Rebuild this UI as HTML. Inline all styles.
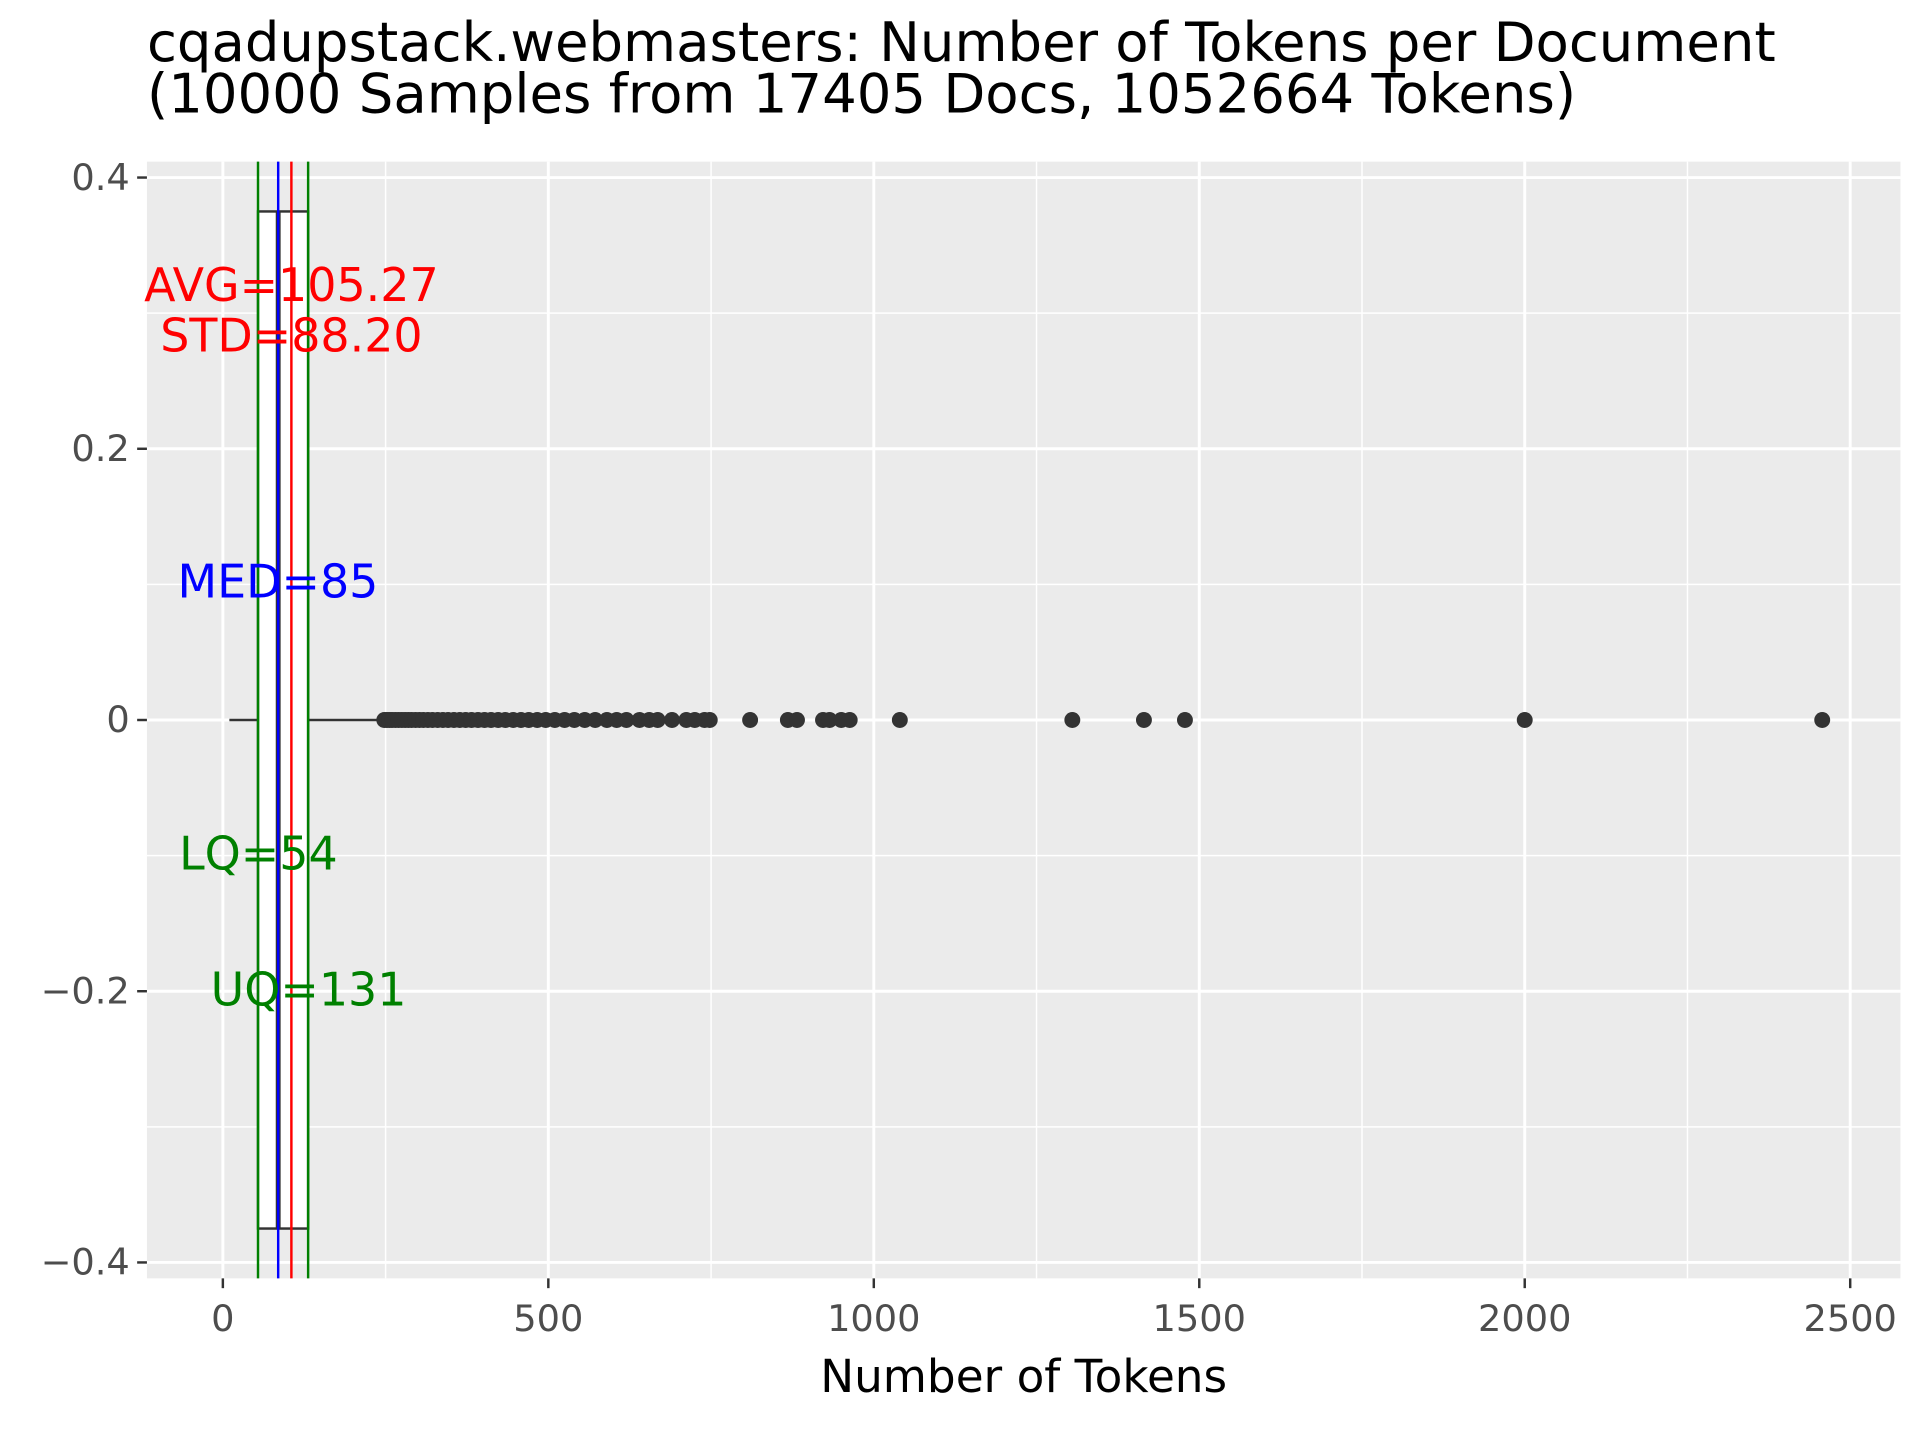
<!DOCTYPE html>
<html><head><meta charset="utf-8"><style>
html,body{margin:0;padding:0;background:#fff}
svg{display:block;font-family:"DejaVu Sans","Liberation Sans",sans-serif}
</style></head><body>
<svg id="chart" width="1920" height="1440" viewBox="0 0 1568 1176" xmlns="http://www.w3.org/2000/svg">
<text x="120" y="50" font-size="44.5" fill="#000">cqadupstack.webmasters: Number of Tokens per Document</text>
<text x="120" y="92" font-size="44.5" fill="#000">(10000 Samples from 17405 Docs, 1052664 Tokens)</text>
<rect x="120" y="132" width="1432" height="912" fill="#ebebeb"/>
<g id="grid"></g><g id="axes"></g><g id="marks"></g>
<text x="836" y="1137" font-size="37" text-anchor="middle" fill="#000">Number of Tokens</text>
</svg>
<script>
const xTicks=[0,500,1000,1500,2000,2500];
const xMinor=[250,750,1250,1750,2250];
const yTicks=[0.4,0.2,0,-0.2,-0.4];
const yTickLabels=["0.4","0.2","0","\u22120.2","\u22120.4"];
const yMinor=[0.3,0.1,-0.1,-0.3];
const stats={min:10,lq:54,med:85,uq:131,whiskerHi:245,avg:105.27,std:88.20};
const outliers=[248,252,256,260,265,270,275,280,285,290,296,302,308,315,322,330,338,346,355,364,373,382,392,402,412,423,434,446,458,470,483,496,510,525,540,556,572,590,605,620,640,655,668,690,712,725,740,748,810,868,882,922,932,950,963,1040,1305,1415,1478,2000,2457];
const NS="http://www.w3.org/2000/svg";
const X=v=>182+(v/500)*265.8;
const Y=v=>588-(v/0.4)*443;
function mk(tag,attrs,parent){const e=document.createElementNS(NS,tag);for(const k in attrs)e.setAttribute(k,attrs[k]);parent.appendChild(e);return e;}
const grid=document.getElementById('grid'),axes=document.getElementById('axes'),marks=document.getElementById('marks');
xMinor.forEach(v=>{const l=mk('line',{x1:X(v),x2:X(v),y1:132,y2:1044,stroke:'#fff','stroke-width':1.2},grid);

});
yMinor.forEach(v=>{const l=mk('line',{x1:120,x2:1552,y1:Y(v),y2:Y(v),stroke:'#fff','stroke-width':1.2},grid);

});
xTicks.forEach(v=>{const l=mk('line',{x1:X(v),x2:X(v),y1:132,y2:1044,stroke:'#fff','stroke-width':2.4},grid);


const t=mk('line',{x1:X(v),x2:X(v),y1:1044,y2:1052,stroke:'#333','stroke-width':2},axes);


const tx=mk('text',{x:X(v),y:1087,'font-size':30,'text-anchor':'middle',fill:'#4d4d4d'},axes);tx.textContent=v;

});
yTicks.forEach((v,i)=>{const l=mk('line',{x1:120,x2:1552,y1:Y(v),y2:Y(v),stroke:'#fff','stroke-width':2.4},grid);


const t=mk('line',{x1:112,x2:120,y1:Y(v),y2:Y(v),stroke:'#333','stroke-width':2},axes);


const tx=mk('text',{x:106,y:Y(v)+10,'font-size':30,'text-anchor':'end',fill:'#4d4d4d'},axes);tx.textContent=yTickLabels[i];

});
let w=mk('line',{x1:X(stats.min),x2:X(stats.lq),y1:Y(0),y2:Y(0),stroke:'#333','stroke-width':2},marks);


w=mk('line',{x1:X(stats.uq),x2:X(stats.whiskerHi),y1:Y(0),y2:Y(0),stroke:'#333','stroke-width':2},marks);


const box=mk('rect',{x:X(stats.lq),y:Y(0.375),width:X(stats.uq)-X(stats.lq),height:Y(-0.375)-Y(0.375),fill:'#fff',stroke:'#333','stroke-width':2},marks);


const med=mk('line',{x1:X(stats.med),x2:X(stats.med),y1:Y(0.375),y2:Y(-0.375),stroke:'#333','stroke-width':4},marks);


outliers.forEach(v=>{const c=mk('circle',{cx:X(v),cy:Y(0),r:6.5,fill:'#333'},marks);

});
[[stats.lq,'green','lq-line'],[stats.uq,'green','uq-line'],[stats.med,'blue','median-line'],[stats.avg,'red','mean-line']].forEach(([v,col,n])=>{
const l=mk('line',{x1:X(v),x2:X(v),y1:132,y2:1044,stroke:col,'stroke-width':2},marks);

});
const labels=[['AVG=105.27',238,246,'red','avg-label'],['STD=88.20',238,287,'red','std-label'],['MED=85',227,488,'blue','median-label'],['LQ=54',211,710,'green','lq-label'],['UQ=131',252,821,'green','uq-label']];
labels.forEach(([s,x,y,c,n])=>{const t=mk('text',{x:x,y:y,'font-size':37.5,'text-anchor':'middle',fill:c},marks);t.textContent=s;

});
</script>
</body></html>
